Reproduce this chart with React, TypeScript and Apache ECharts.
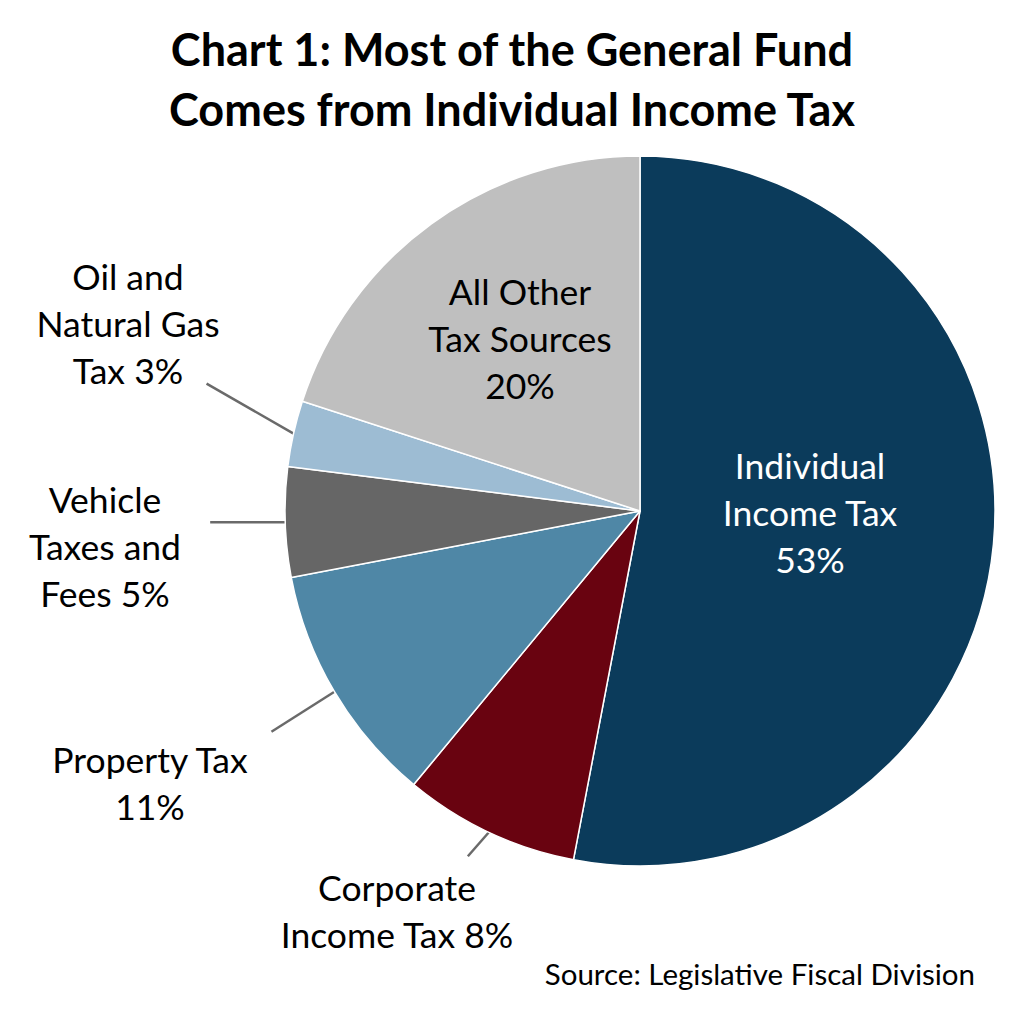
import React, { useEffect, useRef } from "react";
import * as echarts from "echarts";

const categories = [
  "Individual Income Tax",
  "Corporate Income Tax",
  "Property Tax",
  "Vehicle Taxes and Fees",
  "Oil and Natural Gas Tax",
  "All Other Tax Sources",
];
const values = [53, 8, 11, 5, 3, 20];
const labelTexts = [
  "Individual\nIncome Tax\n53%",
  "Corporate\nIncome Tax 8%",
  "Property Tax\n11%",
  "Vehicle\nTaxes and\nFees 5%",
  "Oil and\nNatural Gas\nTax 3%",
  "All Other\nTax Sources\n20%",
];
const colors = ["#0b3b5b", "#690310", "#4f87a6", "#666666", "#9dbcd3", "#bfbfbf"];
const labelColors = ["#ffffff", "#000000", "#000000", "#000000", "#000000", "#000000"];
const labelPos: [number, number][] = [
  [810, 512],
  [397, 911],
  [150, 783],
  [105, 546],
  [128, 323],
  [520, 338],
];
// leader line direction offsets from slice edge (layout only)
const leaderOffset: ([number, number] | null)[] = [
  null,
  [-21, 24],
  [-63, 40],
  [-75, 0],
  [-87, -50],
  null,
];
const insideIdx = [0, 5];

const FONT = "Lato, 'Open Sans', sans-serif";
const CX = 640;
const CY = 511;
const R = 355;

export default function App() {
  const ref = useRef<HTMLDivElement>(null);
  useEffect(() => {
    if (!ref.current) return;
    const chart = echarts.init(ref.current, undefined, { renderer: "svg" });
    const total = values.reduce((a, b) => a + b, 0);
    const midAngles: number[] = [];
    let acc = 0;
    values.forEach((v) => {
      midAngles.push(((acc + v / 2) / total) * Math.PI * 2);
      acc += v;
    });
    chart.setOption({
      animation: false,
      backgroundColor: "#ffffff",
      title: {
        text: "Chart 1: Most of the General Fund\nComes from Individual Income Tax",
        left: "center",
        top: 14,
        textStyle: {
          fontFamily: FONT,
          fontWeight: "bold",
          fontSize: 45,
          lineHeight: 60,
          color: "#000000",
        },
      },
      graphic: [
        {
          type: "text",
          right: 49,
          top: 958,
          style: {
            text: "Source: Legislative Fiscal Division",
            fontFamily: FONT,
            fontSize: 29.5,
            fill: "#000000",
          },
        },
      ],
      series: [
        {
          type: "pie",
          center: [CX, CY],
          radius: R,
          startAngle: 90,
          clockwise: true,
          itemStyle: { borderColor: "#ffffff", borderWidth: 1.5 },
          labelLine: {
            show: true,
            length: 20,
            length2: 0,
            lineStyle: { color: "#6a6a6a", width: 2.5 },
          },
          labelLayout: (params: any) => {
            const i = params.dataIndex;
            const p = labelPos[i];
            const out: any = {
              x: p[0],
              y: p[1],
              align: "center",
              verticalAlign: "middle",
            };
            const off = leaderOffset[i];
            if (off) {
              const a = midAngles[i];
              const sx = CX + R * Math.sin(a);
              const sy = CY - R * Math.cos(a);
              out.labelLinePoints = [
                [sx, sy],
                [sx + off[0] / 2, sy + off[1] / 2],
                [sx + off[0], sy + off[1]],
              ];
            }
            return out;
          },
          data: categories.map((name, i) => ({
            name,
            value: values[i],
            itemStyle: { color: colors[i] },
            label: {
              show: true,
              position: insideIdx.includes(i) ? "inside" : "outside",
              formatter: labelTexts[i],
              color: labelColors[i],
              fontFamily: FONT,
              fontSize: 35.5,
              lineHeight: 47,
              align: "center",
            },
            labelLine: { show: !insideIdx.includes(i) },
          })),
        },
      ],
    });
    return () => chart.dispose();
  }, []);
  return (
    <div
      ref={ref}
      style={{ position: "absolute", left: 0, top: 0, width: 1024, height: 1024 }}
    />
  );
}
